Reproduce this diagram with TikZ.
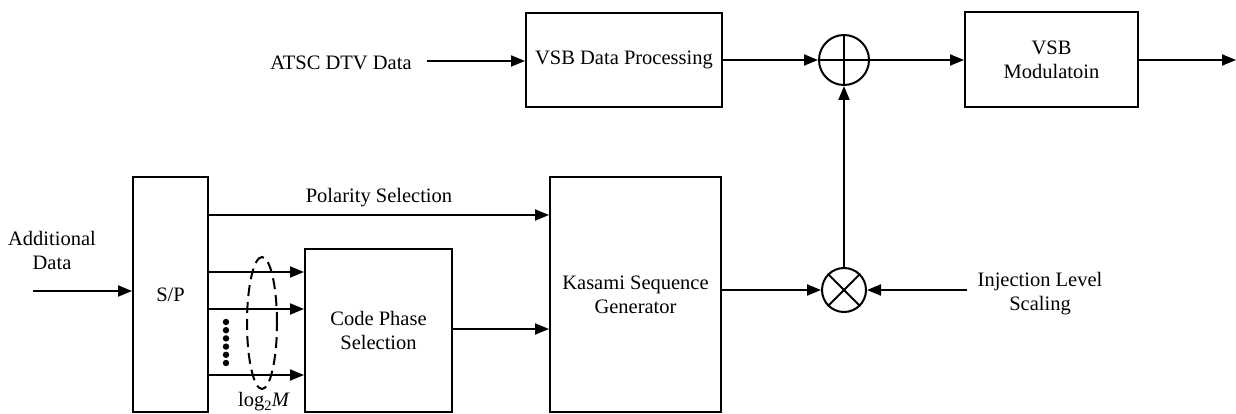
\documentclass[tikz,border=0pt]{standalone}
\usepackage{fontspec}
\setmainfont{Liberation Serif}
\usetikzlibrary{arrows.meta}
\tikzset{
  x=1pt, y=-1pt,
  every node/.style={font=\fontsize{20.5}{24}\selectfont},
  blk/.style={draw, line width=2pt, inner sep=0pt, align=center},
  arr/.style={line width=2pt, -{Triangle[length=14pt,width=11pt]}},
  ln/.style={line width=2pt},
  lbl/.style={align=center, inner sep=0pt},
  sumc/.style={draw, circle, line width=2pt, inner sep=0pt},
}
\begin{document}
\begin{tikzpicture}
\useasboundingbox (0,0) rectangle (1236,414);
% blocks
\node[blk, minimum width=75pt, minimum height=235pt] (sp) at (170.5,294.5) {S/P};
\node[blk, minimum width=147pt, minimum height=163pt] (cps) at (378.5,330.5) {Code Phase\\Selection};
\node[blk, minimum width=171pt, minimum height=235pt] (kas) at (635.5,294.5) {Kasami Sequence\\Generator};
\node[blk, minimum width=196pt, minimum height=94pt] (vdp) at (624,60) {VSB Data Processing};
\node[blk, minimum width=173pt, minimum height=95pt] (vmod) at (1051.5,59.5) {VSB\\Modulatoin};
% summing / mixing
\node[sumc, minimum size=50pt] (add) at (844,60) {};
\draw[ln] (add.north) -- (add.south) (add.west) -- (add.east);
\node[sumc, minimum size=44pt] (mul) at (844,290) {};
\draw[ln] (mul.north west) -- (mul.south east) (mul.north east) -- (mul.south west);
% labels
\node[lbl] (atsc) at (341,63) {ATSC DTV Data};
\node[lbl] (addl) at (52,250) {Additional\\Data};
\node[lbl] (pols) at (379,198) {Polarity Selection};
\node[lbl] (inj) at (1040,294) {Injection Level\\Scaling};
\node[lbl] (logm) at (264,402) {log\textsubscript{2}\textit{M}};
% free ends
\coordinate (atscend) at (427,61);
\coordinate (adin) at (33,291);
\coordinate (injin) at (967,290);
\coordinate (out) at (1236,60);
\coordinate (polc) at (0,215);
\coordinate (l1) at (0,272);
\coordinate (l2) at (0,309);
\coordinate (l3) at (0,375);
% connectors
\draw[arr] (atscend) -- (atscend -| vdp.west);
\draw[arr] (vdp.east |- add) -- (add.west);
\draw[arr] (add.east) -- (add -| vmod.west);
\draw[arr] (vmod.east |- out) -- (out);
\draw[arr] (adin) -- (adin -| sp.west);
\draw[arr] (polc -| sp.east) -- (polc -| kas.west);
\draw[arr] (l1 -| sp.east) -- (l1 -| cps.west);
\draw[arr] (l2 -| sp.east) -- (l2 -| cps.west);
\draw[arr] (l3 -| sp.east) -- (l3 -| cps.west);
\draw[arr] (cps.east |- 0,329) -- (kas.west |- 0,329);
\draw[arr] (kas.east |- mul) -- (mul.west);
\draw[arr] (injin) -- (mul.east);
\draw[arr] (mul.north) -- (add.south);
% dots and ellipse
\foreach \i in {0,...,5} \fill (226,322+8.2*\i) circle (3.2pt);
\draw[line width=2pt, dash pattern=on 11pt off 6pt] (262,323) ellipse (15pt and 66pt);
\end{tikzpicture}
\end{document}
